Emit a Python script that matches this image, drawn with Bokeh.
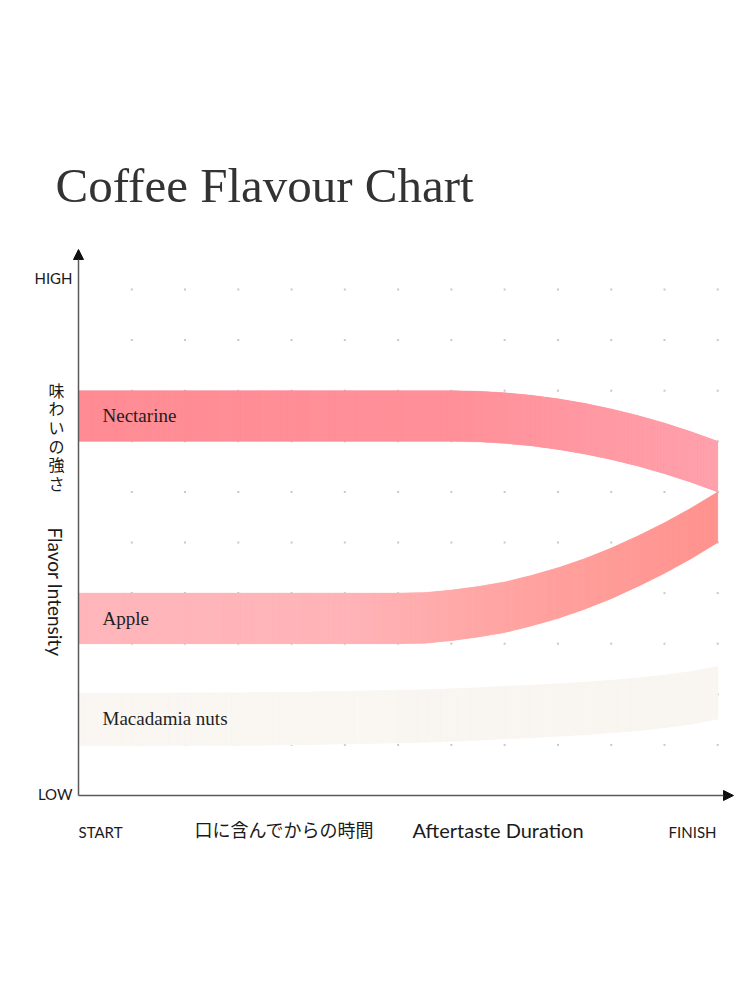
import math
from bokeh.plotting import figure
from bokeh.models import Label, Arrow, NormalHead
from bokeh.embed import file_html
from bokeh.resources import INLINE

# ---------------- data ----------------
time_pts = [0, 1, 2, 3, 4, 5, 6, 6.5, 7, 7.5, 8, 8.5, 9, 9.5, 10, 10.5, 11, 11.5, 12]
nectarine = [7.5, 7.5, 7.5, 7.5, 7.5, 7.5, 7.5, 7.5, 7.5, 7.49, 7.46, 7.41, 7.34, 7.25, 7.14, 7.01, 6.86, 6.69, 6.5]
apple = [3.5, 3.5, 3.5, 3.5, 3.5, 3.5, 3.5, 3.51, 3.56, 3.63, 3.72, 3.85, 4.0, 4.18, 4.39, 4.63, 4.89, 5.18, 5.5]
macadamia = [1.5, 1.5, 1.51, 1.51, 1.52, 1.54, 1.56, 1.57, 1.59, 1.61, 1.64, 1.66, 1.69, 1.72, 1.76, 1.8, 1.86, 1.93, 2.03]
flavours = ["Nectarine", "Apple", "Macadamia nuts"]
band_width = [1.0, 1.0, 1.04]
grid_x = [1, 2, 3, 4, 5, 6, 7, 8, 9, 10, 11, 12]
grid_y = [1, 2, 3, 4, 5, 6, 7, 8, 9, 10]
y_tick_labels = ["LOW", "HIGH"]
x_tick_labels = ["START", "FINISH"]
title_text = "Coffee Flavour Chart"
y_title_jp = "味わいの強さ"
y_title_en = "Flavor Intensity"
x_title_jp = "口に含んでからの時間"
x_title_en = "Aftertaste Duration"

# gradient stops (time position, colour) for each band
nect_stops = [(0, "#FF8C95"), (7, "#FF9099"), (12, "#FFA1AC")]
apple_stops = [(0, "#FFB7BB"), (5, "#FFB4B8"), (8.5, "#FFA29F"), (12, "#FF928D")]
mac_stops = [(0, "#FAF7F3"), (12, "#F9F6F1")]

# ---------------- layout helpers ----------------
UX, UY = 53.27, 50.6          # pixels per data unit
OX, OY = 78, 795              # picture position of the origin


def X(px):
    return (px - OX) / UX


def Y(py):
    return (OY - py) / UY


W, H = 734, 984
p = figure(width=W, height=H, x_range=(X(0), X(W)), y_range=(Y(H), Y(0)),
           output_backend="svg", toolbar_location=None, min_border=0,
           x_axis_type=None, y_axis_type=None)
p.grid.visible = False
p.outline_line_color = None
p.background_fill_color = "white"
p.border_fill_color = "white"


def hex2rgb(h):
    h = h.lstrip("#")
    return tuple(int(h[i:i + 2], 16) for i in (0, 2, 4))


def colour_at(stops, t):
    if t <= stops[0][0]:
        return stops[0][1]
    for (t0, c0), (t1, c1) in zip(stops[:-1], stops[1:]):
        if t0 <= t <= t1:
            f = (t - t0) / (t1 - t0) if t1 > t0 else 0
            a, b = hex2rgb(c0), hex2rgb(c1)
            r = [round(a[k] + (b[k] - a[k]) * f) for k in range(3)]
            return "#%02x%02x%02x" % tuple(r)
    return stops[-1][1]


# ---------------- grid dots ----------------
gx = [x for y in grid_y for x in grid_x]
gy = [y for y in grid_y for x in grid_x]
p.scatter(gx, gy, marker="square", size=2, color="#c8c8c8", line_color=None)


# ---------------- bands ----------------
def draw_band(centres, half, stops):
    lo = [c - half for c in centres]
    hi = [c + half for c in centres]
    p.patch(time_pts + time_pts[::-1], lo + hi[::-1],
            fill_color=colour_at(stops, 6), line_color=None)
    xs, ys, cols = [], [], []
    for i in range(len(time_pts) - 1):
        x0, x1 = time_pts[i], time_pts[i + 1]
        n = max(1, int((x1 - x0) * UX / 3))
        for j in range(n):
            fa, fb = j / n, (j + 1) / n
            xa, xb = x0 + (x1 - x0) * fa, x0 + (x1 - x0) * fb
            la = lo[i] + (lo[i + 1] - lo[i]) * fa
            lb = lo[i] + (lo[i + 1] - lo[i]) * fb
            ha = hi[i] + (hi[i + 1] - hi[i]) * fa
            hb = hi[i] + (hi[i + 1] - hi[i]) * fb
            xs.append([xa, xb, xb, xa])
            ys.append([la, lb, hb, ha])
            cols.append(colour_at(stops, (xa + xb) / 2))
    p.patches(xs, ys, fill_color=cols, line_color=cols, line_width=0.4)


draw_band(macadamia, band_width[2] / 2, mac_stops)
draw_band(apple, band_width[1] / 2, apple_stops)
draw_band(nectarine, band_width[0] / 2, nect_stops)

# band labels
serif = "Liberation Serif"
label_x = X(102)
for name, anchor_py in zip(flavours, [415, 618, 718]):
    p.add_layout(Label(x=label_x, y=Y(anchor_py), text=name, text_font=serif,
                       text_font_size="19px", text_color="#1e1e1e",
                       text_baseline="alphabetic", text_align="left"))

# ---------------- axes with arrows ----------------
axis_col = "#5a5a5a"
p.add_layout(Arrow(end=NormalHead(size=10, fill_color="#111111", line_color="#111111", line_width=1),
                   x_start=0, y_start=0, x_end=0, y_end=Y(249),
                   line_color=axis_col, line_width=1.5))
p.add_layout(Arrow(end=NormalHead(size=10, fill_color="#111111", line_color="#111111", line_width=1),
                   x_start=0, y_start=0, x_end=X(733), y_end=0,
                   line_color=axis_col, line_width=1.5))

sans = "Lato"
txt = "#1a1a1a"
# y tick labels
p.add_layout(Label(x=X(72), y=Y(793), text=y_tick_labels[0], text_font=sans, text_font_size="15px",
                   text_color=txt, text_align="right", text_baseline="alphabetic"))
p.add_layout(Label(x=X(72), y=Y(277), text=y_tick_labels[1], text_font=sans, text_font_size="15px",
                   text_color=txt, text_align="right", text_baseline="alphabetic"))
# x tick labels
p.add_layout(Label(x=X(78), y=Y(831), text=x_tick_labels[0], text_font=sans, text_font_size="15px",
                   text_color=txt, text_align="left", text_baseline="alphabetic"))
p.add_layout(Label(x=X(716), y=Y(831), text=x_tick_labels[1], text_font=sans, text_font_size="15px",
                   text_color=txt, text_align="right", text_baseline="alphabetic"))
# x titles
p.add_layout(Label(x=X(194), y=Y(828), text=x_title_jp, text_font="Noto Sans CJK JP",
                   text_font_size="18px", text_color=txt, text_align="left", text_baseline="middle"))
p.add_layout(Label(x=X(412), y=Y(829.5), text=x_title_en, text_font=sans,
                   text_font_size="20px", text_color=txt, text_align="left", text_baseline="alphabetic"))
# y titles
p.add_layout(Label(x=X(56), y=Y(377), text="\n".join(y_title_jp), text_font="Noto Sans CJK JP",
                   text_font_size="16px", text_line_height=0.78, text_color=txt,
                   text_align="center", text_baseline="top"))
p.add_layout(Label(x=X(55), y=Y(527), text=y_title_en, text_font=sans, angle=-math.pi / 2,
                   text_font_size="19px", text_color=txt, text_align="left", text_baseline="middle"))

# title
p.add_layout(Label(x=X(55), y=Y(185), text=title_text, text_font=serif,
                   text_font_size="49px", text_color="#333333",
                   text_align="left", text_baseline="alphabetic"))

open("out.html", "w").write(file_html(p, INLINE))
